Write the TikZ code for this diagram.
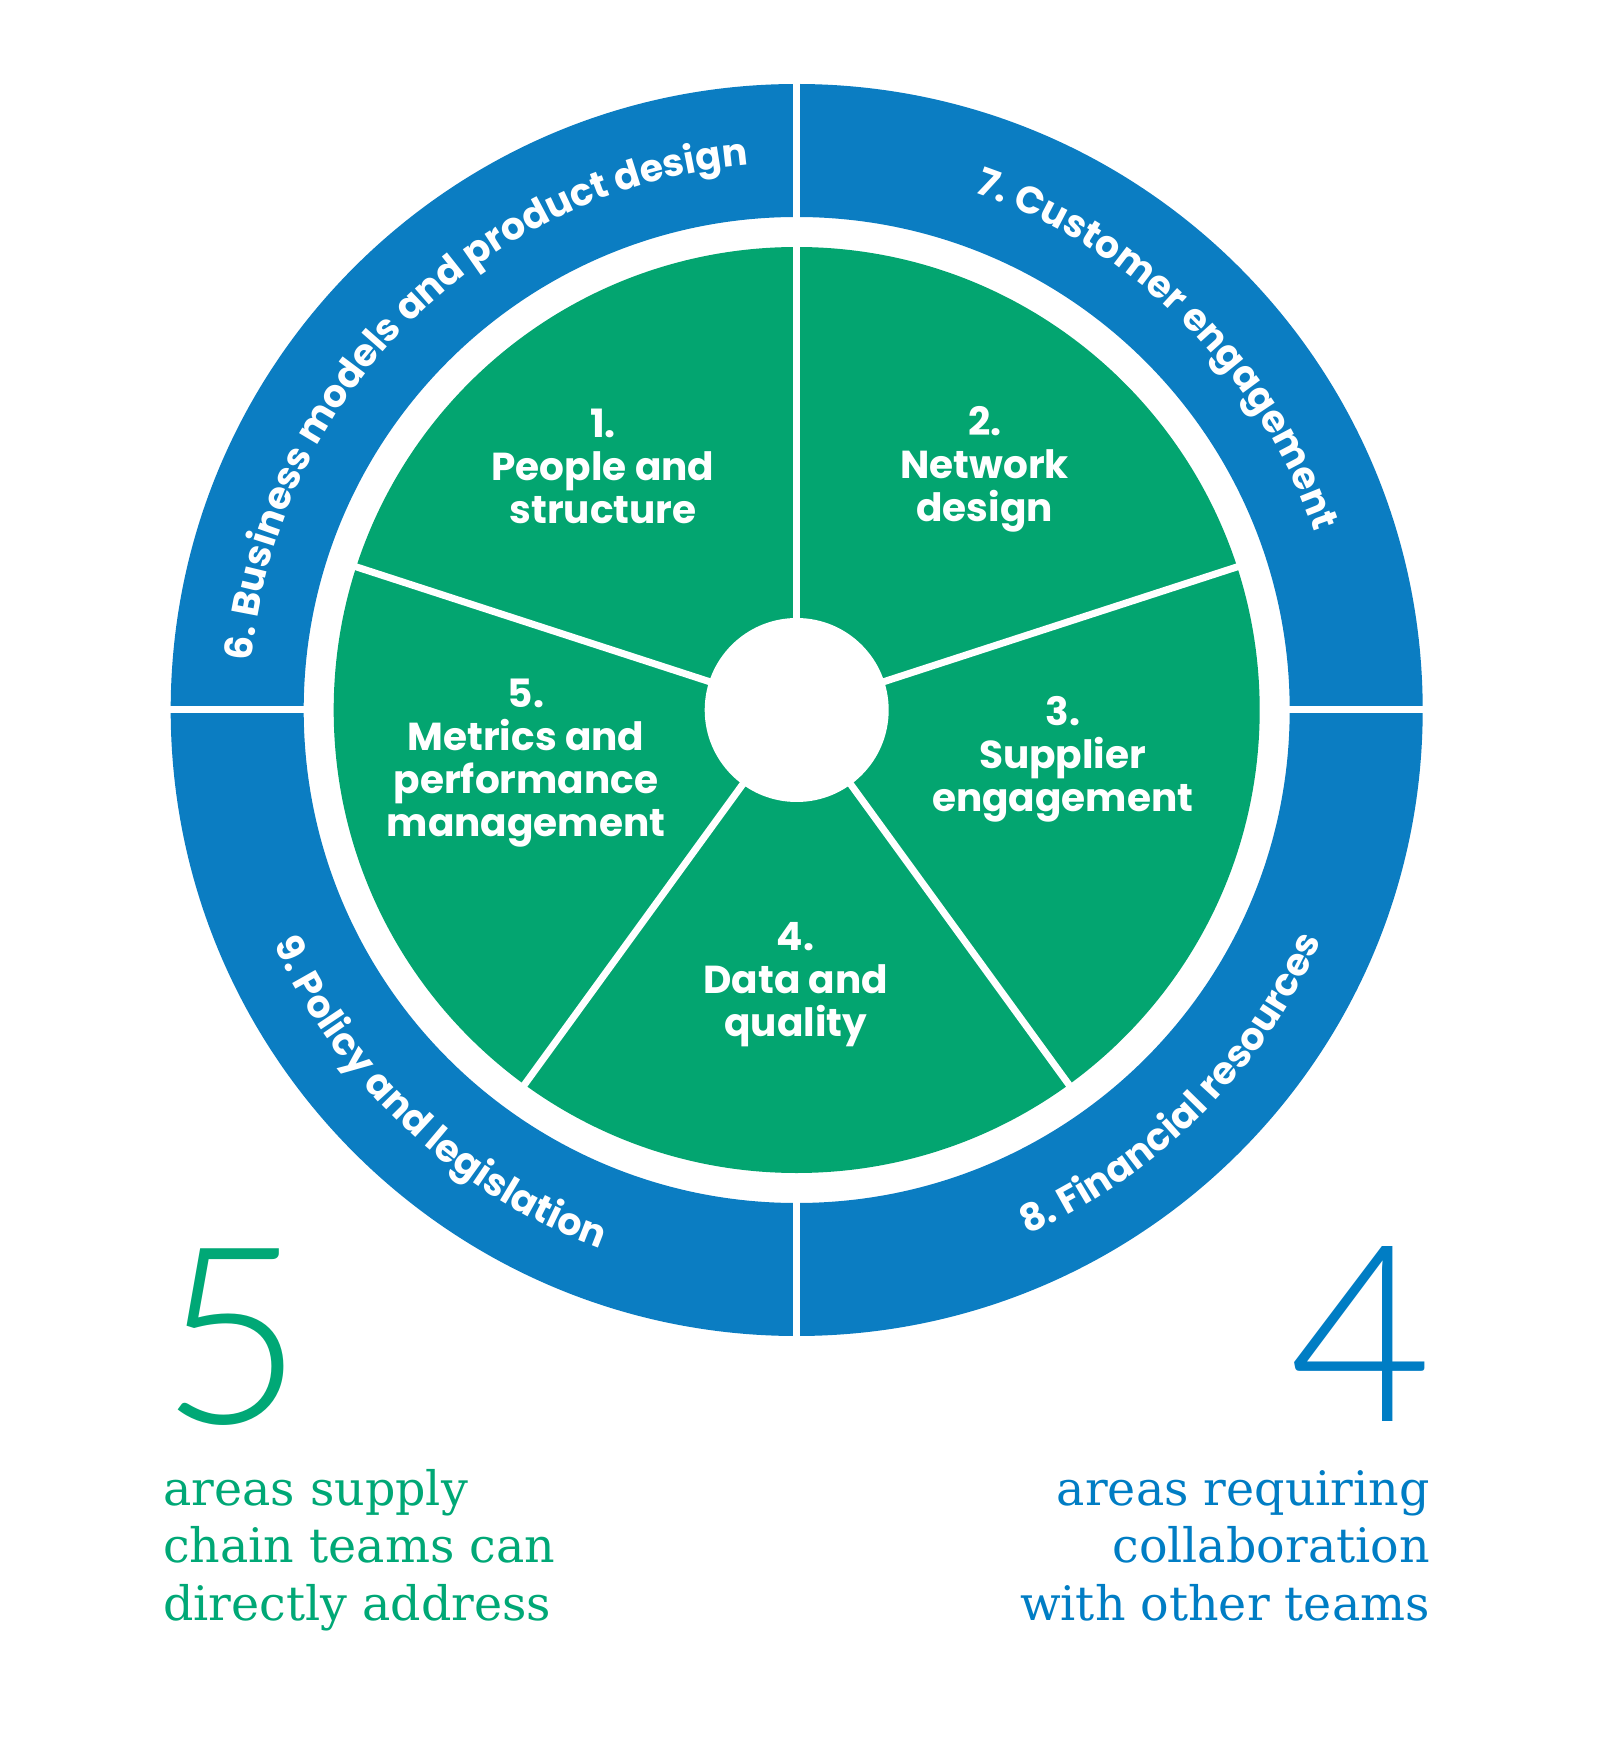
\documentclass[tikz,border=0pt]{standalone}
\usepackage{fontspec}
\usetikzlibrary{decorations.text}
\newfontfamily\gothamfont{Poppins}
\newfontfamily\slabfont{DejaVu Serif}
\newfontfamily\thinfont{Lato Light}
\definecolor{ringblue}{RGB}{11,125,194}
\definecolor{wedgegreen}{RGB}{3,165,112}
\definecolor{notegreen}{RGB}{0,168,118}
\definecolor{noteblue}{RGB}{0,125,196}
\newcommand\ringtext{\gothamfont\bfseries\fontsize{38}{42}\selectfont}
\tikzset{
  divider/.style={draw=white, line width=7pt},
  wedgelabel/.style={text=white, align=center, inner sep=0pt,
    font=\gothamfont\bfseries\fontsize{39}{43}\selectfont},
  ringlabel/.style={decorate, decoration={text along path,
    text align=center, text color=white}},
  bignum/.style={inner sep=0pt, font=\thinfont\fontsize{247}{247}\selectfont},
  notetext/.style={inner sep=0pt, font=\slabfont\fontsize{47.5}{57.5}\selectfont},
}

\begin{document}
\begin{tikzpicture}[x=1pt, y=1pt]

% page
\path[fill=white] (-796.7,-1045) rectangle (812.3,710);

% outer ring, four parts
\fill[ringblue, even odd rule] (0,0) circle (626) (0,0) circle (493);
\foreach \a in {0,90,180,270}
  \draw[divider] (\a:485) -- (\a:640);

% inner disc, five wedges
\fill[wedgegreen] (0,0) circle (463);
\foreach \a in {90,18,-54,-126,162}
  \draw[divider] (0,0) -- (\a:470);
\fill[white] (0,0) circle (92);

% wedge labels
\node (w1) [wedgelabel] at (-193.7,244) {1.\\People and\\structure};
\node (w2) [wedgelabel] at (188,240.5) {2.\\Network\\design};
\node (w3) [wedgelabel] at (266,-49.5) {3.\\Supplier\\engagement};
\node (w4) [wedgelabel] at (-1,-275) {4.\\Data and\\quality};
\node (w5) [wedgelabel] at (-270.7,-53.5) {5.\\Metrics and\\performance\\management};

% ring labels
\path[ringlabel, decoration={text={|\ringtext|6. Business models and product design}}]
  (180:547) arc[start angle=180, end angle=90, radius=547];
\path[ringlabel, decoration={text={|\ringtext|7. Customer engagement}}]
  (90:547) arc[start angle=90, end angle=0, radius=547];
\path[ringlabel, decoration={text={|\ringtext|8. Financial resources}}]
  (270:573) arc[start angle=270, end angle=360, radius=573];
\path[ringlabel, decoration={text={|\ringtext|9. Policy and legislation}}]
  (182:573) arc[start angle=182, end angle=272, radius=573];

% counts
\node (five) [bignum, text=notegreen, anchor=base west] at (-636,-713) {5};
\node (four) [bignum, text=noteblue, anchor=base east] at (636,-711.7) {4};

\node (leftnote) [notetext, text=notegreen, align=left, anchor=base west]
  at (-633.7,-910) {areas supply\\chain teams can\\directly address};
\node (rightnote) [notetext, text=noteblue, align=right, anchor=base east]
  at (633.3,-910) {areas requiring\\collaboration\\with other teams};

\end{tikzpicture}
\end{document}
